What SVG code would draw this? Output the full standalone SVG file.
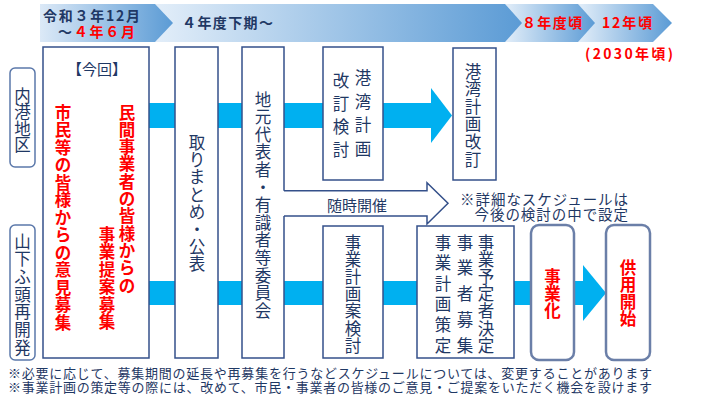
<svg xmlns="http://www.w3.org/2000/svg" width="701" height="405" viewBox="0 0 701 405">
<defs>
<linearGradient id="g1" x1="0" y1="0" x2="1" y2="0"><stop offset="0" stop-color="#dce9f7"/><stop offset="1" stop-color="#5b9bd5"/></linearGradient>
<linearGradient id="g2" x1="0" y1="0" x2="1" y2="0"><stop offset="0" stop-color="#e3eef9"/><stop offset="1" stop-color="#5b9bd5"/></linearGradient>
</defs>
<style>
.bx{fill:#fff;stroke:#34508a;stroke-width:1.5}
.rb{fill:#fff;stroke:#6b7fa8;stroke-width:2.5}
.lb{fill:#fff;stroke:#5b78aa;stroke-width:1.5}
.t{font-family:"Noto Sans CJK JP","Noto Sans",sans-serif;fill:#1f3864}
.v{font-size:16.5px;dominant-baseline:central;text-anchor:middle}
.r{fill:#ff0000;font-weight:bold}
.hb{font-size:14px;font-weight:bold}
.band{fill:#00b0f0}
.n{font-size:13px;dominant-baseline:central}
</style>
<rect width="701" height="405" fill="#fff"/>
<g id="timeline">
<polygon points="578,4 653,4 672,23 653,42 578,42" fill="url(#g2)"/>
<polygon points="505,4 578,4 595,23 578,42 505,42" fill="url(#g2)"/>
<polygon points="155,4 505,4 522,23 505,42 155,42" fill="url(#g2)"/>
<polygon points="40,4 155,4 173,23 155,42 40,42" fill="url(#g1)"/>
<text class="t hb" x="43" y="21" textLength="97">令和３年12月</text>
<text class="t hb" x="58" y="37" textLength="77">～<tspan fill="#ff0000">４年６月</tspan></text>
<text class="t hb" x="182" y="28" textLength="91" font-size="15">４年度下期～</text>
<text class="t hb r" x="522" y="28" textLength="60" font-size="15">８年度頃</text>
<text class="t hb r" x="602" y="28" textLength="50" font-size="15">12年頃</text>
<text class="t hb r" x="585" y="59" textLength="88" font-size="15">(2030年頃)</text>
</g>
<g id="connectors">
<rect class="band" x="149" y="103" width="283" height="25"/>
<polygon class="band" points="431,88 452,115.5 431,143"/>
<rect class="band" x="149" y="281" width="435" height="24"/>
<polygon class="band" points="583,265 606,293 583,321"/>
<path d="M283.3,190.7 H427 V182.7 L448,203.3 L427,224 V216 H283.3" fill="#fff" stroke="#34508a" stroke-width="1.5"/>
<text class="t" x="327" y="204" font-size="15" dominant-baseline="central">随時開催</text>
</g>
<g id="label-naiko">
<rect class="lb" x="10" y="68" width="25" height="99" rx="5"/>
<text class="t v"><tspan x="22.5" y="94.5">内</tspan><tspan x="22.5" y="111">港</tspan><tspan x="22.5" y="127.5">地</tspan><tspan x="22.5" y="144">区</tspan></text>
</g>
<g id="label-yamashita">
<rect class="lb" x="10" y="225" width="25" height="135" rx="5"/>
<text class="t v"><tspan x="22.5" y="240.5">山</tspan><tspan x="22.5" y="258.2">下</tspan><tspan x="22.5" y="275.9">ふ</tspan><tspan x="22.5" y="293.6">頭</tspan><tspan x="22.5" y="311.3">再</tspan><tspan x="22.5" y="329">開</tspan><tspan x="22.5" y="346.7">発</tspan></text>
</g>
<g id="node-konkai">
<rect class="bx" x="43" y="47" width="106" height="311"/>
<text class="t" x="97" y="75" font-size="15" text-anchor="middle">【今回】</text>
<text class="t v r"><tspan x="127" y="111.5">民</tspan><tspan x="127" y="128.8">間</tspan><tspan x="127" y="146.1">事</tspan><tspan x="127" y="163.4">業</tspan><tspan x="127" y="180.7">者</tspan><tspan x="127" y="198">の</tspan><tspan x="127" y="215.3">皆</tspan><tspan x="127" y="232.6">様</tspan><tspan x="127" y="249.9">か</tspan><tspan x="127" y="267.2">ら</tspan><tspan x="127" y="284.5">の</tspan><tspan x="107" y="233.5">事</tspan><tspan x="107" y="251">業</tspan><tspan x="107" y="268.5">提</tspan><tspan x="107" y="286">案</tspan><tspan x="107" y="303.5">募</tspan><tspan x="107" y="321">集</tspan></text>
<text class="t v r"><tspan x="63" y="111.5">市</tspan><tspan x="63" y="129">民</tspan><tspan x="63" y="146.5">等</tspan><tspan x="63" y="164">の</tspan><tspan x="63" y="181.5">皆</tspan><tspan x="63" y="199">様</tspan><tspan x="63" y="216.5">か</tspan><tspan x="63" y="234">ら</tspan><tspan x="63" y="251.5">の</tspan><tspan x="63" y="269">意</tspan><tspan x="63" y="286.5">見</tspan><tspan x="63" y="304">募</tspan><tspan x="63" y="321.5">集</tspan></text>
</g>
<g id="node-torimatome">
<rect class="bx" x="175" y="47" width="43" height="311"/>
<text class="t v"><tspan x="197" y="141.5">取</tspan><tspan x="197" y="158.9">り</tspan><tspan x="197" y="176.3">ま</tspan><tspan x="197" y="193.7">と</tspan><tspan x="197" y="211.1">め</tspan><tspan x="197" y="228.5">・</tspan><tspan x="197" y="245.9">公</tspan><tspan x="197" y="263.3">表</tspan></text>
</g>
<g id="node-iinkai">
<rect x="242" y="47" width="42" height="311" fill="#fff"/>
<path d="M284,190.7 V47 H242 V358 H284 V216" fill="none" stroke="#34508a" stroke-width="1.5"/>
<text class="t v"><tspan x="263" y="98.5">地</tspan><tspan x="263" y="116.1">元</tspan><tspan x="263" y="133.7">代</tspan><tspan x="263" y="151.3">表</tspan><tspan x="263" y="168.9">者</tspan><tspan x="263" y="186.5">・</tspan><tspan x="263" y="204.1">有</tspan><tspan x="263" y="221.7">識</tspan><tspan x="263" y="239.3">者</tspan><tspan x="263" y="256.9">等</tspan><tspan x="263" y="274.5">委</tspan><tspan x="263" y="292.1">員</tspan><tspan x="263" y="309.7">会</tspan></text>
</g>
<g id="node-kaitei-kento">
<rect class="bx" x="323" y="47" width="60" height="133"/>
<text class="t v"><tspan x="363" y="77">港</tspan><tspan x="363" y="100.5">湾</tspan><tspan x="363" y="124">計</tspan><tspan x="363" y="147.5">画</tspan><tspan x="341" y="80">改</tspan><tspan x="341" y="103">訂</tspan><tspan x="341" y="126">検</tspan><tspan x="341" y="149">討</tspan></text>
</g>
<g id="node-kaitei">
<rect class="bx" x="453" y="48" width="43" height="132"/>
<text class="t v"><tspan x="473" y="70.5">港</tspan><tspan x="473" y="88.1">湾</tspan><tspan x="473" y="105.7">計</tspan><tspan x="473" y="123.3">画</tspan><tspan x="473" y="140.9">改</tspan><tspan x="473" y="158.5">訂</tspan></text>
</g>
<g id="node-jigyokeikakuan">
<rect class="bx" x="323" y="226" width="60" height="132"/>
<text class="t v"><tspan x="353" y="241.5">事</tspan><tspan x="353" y="258.7">業</tspan><tspan x="353" y="275.9">計</tspan><tspan x="353" y="293.1">画</tspan><tspan x="353" y="310.3">案</tspan><tspan x="353" y="327.5">検</tspan><tspan x="353" y="344.7">討</tspan></text>
</g>
<g id="node-jigyosha">
<rect class="bx" x="417" y="226" width="97" height="132"/>
<text class="t v"><tspan x="486" y="241.5">事</tspan><tspan x="486" y="258.7">業</tspan><tspan x="486" y="275.9">予</tspan><tspan x="486" y="293.1">定</tspan><tspan x="486" y="310.3">者</tspan><tspan x="486" y="327.5">決</tspan><tspan x="486" y="344.7">定</tspan><tspan x="465" y="241.5">事</tspan><tspan x="465" y="267.3">業</tspan><tspan x="465" y="293.1">者</tspan><tspan x="465" y="318.9">募</tspan><tspan x="465" y="344.7">集</tspan><tspan x="443" y="241.5">事</tspan><tspan x="443" y="262.1">業</tspan><tspan x="443" y="282.8">計</tspan><tspan x="443" y="303.4">画</tspan><tspan x="443" y="324.1">策</tspan><tspan x="443" y="344.7">定</tspan></text>
</g>
<g id="node-jigyoka">
<rect class="rb" x="531" y="225" width="43" height="135" rx="8"/>
<text class="t v r"><tspan x="552.5" y="275.5">事</tspan><tspan x="552.5" y="292.5">業</tspan><tspan x="552.5" y="309.5">化</tspan></text>
</g>
<g id="node-kyoyo">
<rect class="rb" x="606" y="225" width="44" height="135" rx="8"/>
<text class="t v r"><tspan x="628" y="266.5">供</tspan><tspan x="628" y="283.8">用</tspan><tspan x="628" y="301.1">開</tspan><tspan x="628" y="318.4">始</tspan></text>
</g>
<g id="notes">
<text class="t" x="629" y="198" font-size="14.5" letter-spacing="0.95" text-anchor="end" dominant-baseline="central">※詳細なスケジュールは</text>
<text class="t" x="629" y="213" font-size="14.5" letter-spacing="0.95" text-anchor="end" dominant-baseline="central">今後の検討の中で設定</text>
<text class="t n" x="8" y="372.5" textLength="644">※必要に応じて、募集期間の延長や再募集を行うなどスケジュールについては、変更することがあります</text>
<text class="t n" x="8" y="386" textLength="644">※事業計画の策定等の際には、改めて、市民・事業者の皆様のご意見・ご提案をいただく機会を設けます</text>
</g>
</svg>
